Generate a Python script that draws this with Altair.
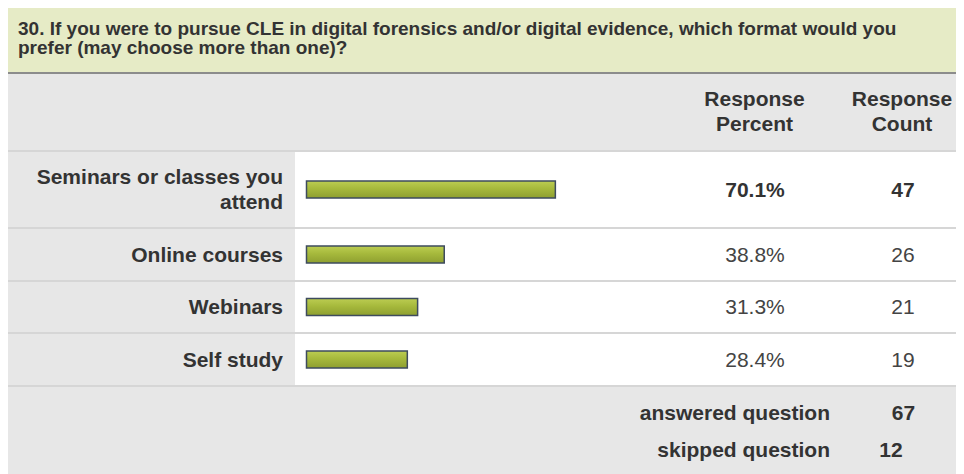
import altair as alt
import pandas as pd

# ---------------- data ----------------
question_lines = [
    "30. If you were to pursue CLE in digital forensics and/or digital evidence, which format would you",
    "prefer (may choose more than one)?",
]
header_lines = [["Response", "Percent"], ["Response", "Count"]]
categories = ["Seminars or classes you\nattend", "Online courses", "Webinars", "Self study"]
percents = [70.1, 38.8, 31.3, 28.4]
counts = [47, 26, 21, 19]
footer_labels = ["answered question", "skipped question"]
footer_values = [67, 12]

# ---------------- style / layout ----------------
W = 948
FONT = "Liberation Sans, Arial, sans-serif"
GREEN = "#e6ebc6"
GRAY = "#e7e7e7"
SEP = "#d6d6d6"
DARK = "#333333"
LABEL_W = 287
COL1_X = 747
COL2_X = 895
ROW_H = [77, 53, 52, 53]
XS = alt.Scale(domain=[0, 100], range=[298.5, 653.5], nice=False, zero=False)

one = pd.DataFrame({"k": [0]})


def box(x0, x1, y0, y1, color):
    return alt.Chart(one).mark_rect(color=color).encode(
        x=alt.value(x0), x2=alt.value(x1), y=alt.value(y0), y2=alt.value(y1)
    )


# ---- title block ----
title_df = pd.DataFrame({"i": list(range(len(question_lines))), "line": question_lines})
title_text = alt.Chart(title_df).mark_text(
    align="left", baseline="alphabetic", font=FONT, fontSize=19, fontWeight="bold", color=DARK
).encode(
    x=alt.value(10),
    y=alt.Y("i:Q", scale=alt.Scale(domain=[0, 1], range=[26.5, 45.5], nice=False, zero=False), axis=None),
    text="line:N",
)
title_block = alt.layer(
    box(0, W, 0, 64, GREEN), box(0, W, 64, 66, "#8c8c8c"), title_text
).properties(width=W, height=66)

# ---- header block ----
hdr_rows = []
for c, lines in enumerate(header_lines):
    for i, t in enumerate(lines):
        hdr_rows.append({"c": c, "i": i, "t": t})
hdr_df = pd.DataFrame(hdr_rows)
hdr_text = alt.Chart(hdr_df).mark_text(
    align="center", baseline="alphabetic", font=FONT, fontSize=21, fontWeight="bold", color=DARK
).encode(
    x=alt.X("c:Q", scale=alt.Scale(domain=[0, 1], range=[COL1_X - 0.5, COL2_X - 1], nice=False, zero=False), axis=None),
    y=alt.Y("i:Q", scale=alt.Scale(domain=[0, 1], range=[32, 57], nice=False, zero=False), axis=None),
    text="t:N",
)
header_block = alt.layer(box(0, W, 0, 76, GRAY), hdr_text).properties(width=W, height=76)

# ---- body rows ----
df = pd.DataFrame({"cat": categories, "pct": percents, "count": counts})
grad = alt.Gradient(
    gradient="linear",
    stops=[
        alt.GradientStop(color="#bccd52", offset=0),
        alt.GradientStop(color="#a6b93c", offset=0.45),
        alt.GradientStop(color="#8e9f30", offset=1),
    ],
    x1=0, x2=0, y1=0, y2=1,
)
pmax = max(percents)
LH = 25
rows = []
for idx, (cat, h) in enumerate(zip(categories, ROW_H)):
    c = 2 + (h - 2) / 2
    nextra = cat.count("\n")
    weight = "bold" if percents[idx] == pmax else "normal"
    base = alt.Chart(df).transform_filter(alt.datum.cat == cat)
    bar = base.transform_calculate(zero="0").mark_rect(
        fill=grad, stroke="#3e4b5e", strokeWidth=1.5
    ).encode(
        x=alt.X("zero:Q", scale=XS, axis=None),
        x2="pct:Q",
        y=alt.value(c - 8.5),
        y2=alt.value(c + 8.5),
    )
    lab = base.mark_text(
        align="right", baseline="middle", font=FONT, fontSize=21, fontWeight="bold",
        color=DARK, lineBreak="\n", lineHeight=LH, dy=1,
    ).encode(x=alt.value(275), y=alt.value(c - nextra * LH / 2), text="cat:N")
    ptxt = base.transform_calculate(ptxt="format(datum.pct, '.1f') + '%'").mark_text(
        align="center", baseline="middle", font=FONT, fontSize=21, fontWeight=weight,
        color=DARK if weight == "bold" else "#444444", dy=1,
    ).encode(x=alt.value(COL1_X), y=alt.value(c), text="ptxt:N")
    ctxt = base.mark_text(
        align="center", baseline="middle", font=FONT, fontSize=21, fontWeight=weight,
        color=DARK if weight == "bold" else "#444444", dy=1,
    ).encode(x=alt.value(COL2_X), y=alt.value(c), text="count:Q")
    row = alt.layer(
        box(0, W, 0, 2, SEP), box(0, LABEL_W, 2, h, GRAY), bar, lab, ptxt, ctxt
    ).properties(width=W, height=h)
    rows.append(row)

# ---- footer ----
foot_df = pd.DataFrame({"i": [0, 1], "label": footer_labels, "value": footer_values})
FY = alt.Scale(domain=[0, 1], range=[35, 72], nice=False, zero=False)
foot_lab = alt.Chart(foot_df).mark_text(
    align="right", baseline="alphabetic", font=FONT, fontSize=21, fontWeight="bold", color=DARK
).encode(x=alt.value(822), y=alt.Y("i:Q", scale=FY, axis=None), text="label:N")
foot_v0 = alt.Chart(foot_df).transform_filter(alt.datum.i == 0).mark_text(
    align="center", baseline="alphabetic", font=FONT, fontSize=21, fontWeight="bold", color=DARK
).encode(x=alt.value(895.5), y=alt.Y("i:Q", scale=FY, axis=None), text="value:Q")
foot_v1 = alt.Chart(foot_df).transform_filter(alt.datum.i == 1).mark_text(
    align="center", baseline="alphabetic", font=FONT, fontSize=21, fontWeight="bold", color=DARK
).encode(x=alt.value(883), y=alt.Y("i:Q", scale=FY, axis=None), text="value:Q")
footer_block = alt.layer(
    box(0, W, 0, 2, SEP), box(0, W, 2, 89, GRAY), foot_lab, foot_v0, foot_v1
).properties(width=W, height=89)

chart = alt.vconcat(
    title_block, header_block, *rows, footer_block, spacing=0
).properties(
    padding=0, background="white"
).configure_view(stroke=None).configure_concat(spacing=0)

chart.save("out.html", embed_options={"renderer": "svg", "actions": False})
